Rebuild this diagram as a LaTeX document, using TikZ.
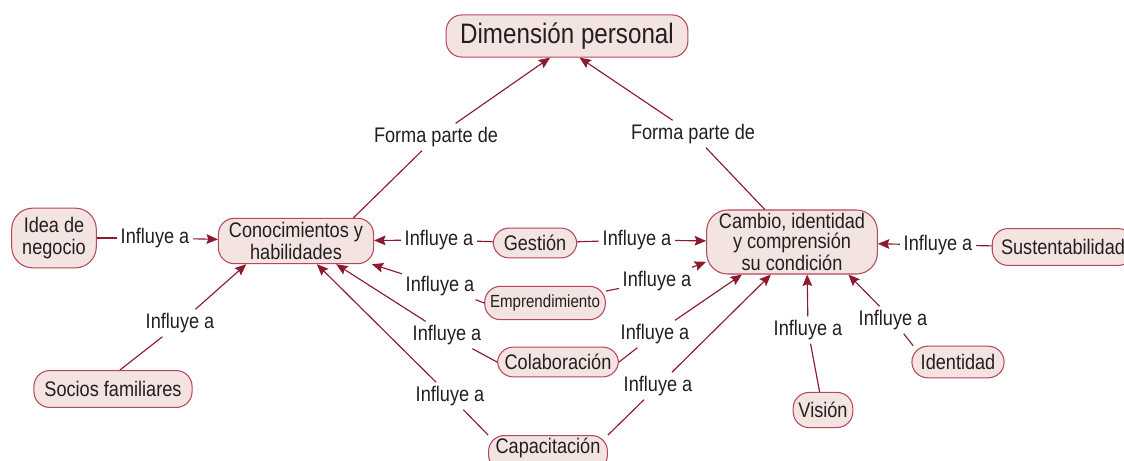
\documentclass[tikz,border=0pt]{standalone}
\usepackage{fontspec}
\setmainfont[FakeStretch=0.86]{Liberation Sans}
\usetikzlibrary{arrows.meta}
\definecolor{vino}{HTML}{8B1A2E}
\definecolor{borde}{HTML}{B6485C}
\definecolor{rosa}{HTML}{F3E3E1}
\definecolor{tinta}{HTML}{231F20}

\begin{document}
\begin{tikzpicture}[x=0.02cm,y=-0.02cm,
  concepto/.style={draw=borde,fill=rosa,line width=0.6pt,rounded corners=9pt,align=center,
    text=tinta,font=\fontsize{12}{13}\selectfont,inner xsep=5pt,inner ysep=2pt},
  enlace/.style={text=tinta,font=\fontsize{12}{13}\selectfont,inner sep=2pt},
  linea/.style={draw=vino,line width=0.65pt},
  flecha/.style={linea,-{Stealth[length=6.5pt,width=5.5pt,inset=1pt]}}]

\useasboundingbox (0,0) rectangle (1124,460);

% conceptos
\node[concepto,font=\fontsize{16}{18}\selectfont,inner xsep=8pt,minimum height=24pt] (dim) at (567,36) {Dimensión personal};
\node[concepto,rounded corners=12pt,minimum height=34pt,inner xsep=6pt] (idea) at (54,238) {Idea de\\negocio};
\node[concepto,inner xsep=6pt] (conoc) at (296,241) {Conocimientos y\\habilidades};
\node[concepto,minimum height=17pt,inner xsep=6pt] (gestion) at (535,243) {Gestión};
\node[concepto,font=\fontsize{12}{11.3}\selectfont,rounded corners=12pt,inner xsep=7pt] (cambio) at (792,242) {Cambio, identidad\\y comprensión\\su condición};
\node[concepto,minimum height=21pt] (susten) at (1063,247) {Sustentabilidad};
\node[concepto,font=\fontsize{10}{11}\selectfont,minimum height=19pt,inner xsep=3pt] (empren) at (545,303) {Emprendimiento};
\node[concepto,minimum height=17pt,inner xsep=4pt] (colab) at (558,362) {Colaboración};
\node[concepto,minimum height=21pt,inner xsep=6pt] (socios) at (113,389) {Socios familiares};
\node[concepto,anchor=north,text height=9pt,text depth=8pt,inner xsep=4pt,inner ysep=1.5pt] (capac) at (548,435) {Capacitación};
\node[concepto,minimum height=20pt,inner xsep=3pt] (vision) at (823,410) {Visión};
\node[concepto,minimum height=18pt] (identi) at (958,362) {Identidad};

% forma parte de
\node[enlace] (fp1) at (436,137) {Forma parte de};
\node[enlace] (fp2) at (693,134) {Forma parte de};
\draw[linea] (conoc.22) -- (fp1);
\draw[flecha] (fp1) -- (dim.232);
\draw[linea] (cambio.130) -- (fp2);
\draw[flecha] (fp2) -- (dim.300);

% influye a
\foreach \de/\a/\px/\py [count=\n] in {
  idea/conoc/155/238, gestion/conoc/439/240, gestion/cambio/637/240,
  empren.west/conoc.343/440/286, empren/cambio.193/657/281,
  colab.west/conoc.330/447/335, colab.east/cambio.213/655/334,
  capac.north west/conoc.312/450/396, capac.north east/cambio.237/658/386,
  socios.70/conoc.205/180/323, susten/cambio/938/245,
  vision/cambio.295/808/330, identi.160/cambio.330/893/320}
{
  \node[enlace] (inf\n) at (\px,\py) {Influye a};
  \draw[linea] (\de) -- (inf\n);
  \draw[flecha] (inf\n) -- (\a);
}

\end{tikzpicture}
\end{document}
